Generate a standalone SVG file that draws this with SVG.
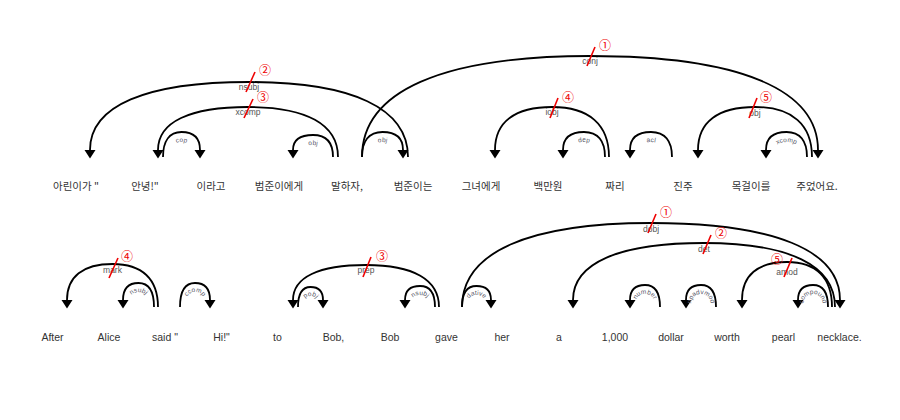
<svg xmlns="http://www.w3.org/2000/svg" width="900" height="420" viewBox="0 0 900 420">
<style>
.bg{fill:#fff}
.arc{fill:none;stroke:#000;stroke-width:1.8}
.ko{font-family:"Noto Sans CJK KR","Noto Sans CJK SC",sans-serif;font-size:10.5px;fill:#333;text-anchor:middle}
.en{font-family:"Liberation Sans",Arial,sans-serif;font-size:10.5px;fill:#333;text-anchor:middle}
.lbl{font-family:"Liberation Sans",Arial,sans-serif;font-size:8.5px;fill:#555;text-anchor:middle}
.slbl{font-family:"Liberation Sans",Arial,sans-serif;font-size:6.5px;fill:#556;text-anchor:middle}
.red{stroke:#e00;stroke-width:1.6;fill:none}
.num{font-family:"Noto Sans CJK KR","DejaVu Sans",sans-serif;font-size:12px;fill:#e00;text-anchor:middle}
</style>
<defs>
<marker id="arr" markerUnits="userSpaceOnUse" markerWidth="9" markerHeight="12" viewBox="0 -6 9 12" refX="0" refY="0" orient="auto">
<path d="M0,-5.5 L8.5,0 L0,5.5 z" fill="#000"/>
</marker>
<path id="t1" d="M169,157 C169,147.3 173.4,142 181.5,142 C189.6,142 194,147.3 194,157"/>
<path id="t2" d="M299,157 C299,149.2 303.9,145 313,145 C322.1,145 327,149.2 327,157"/>
<path id="t3" d="M368,157 C368,147.3 373.1,142 382.5,142 C391.9,142 397,147.3 397,157"/>
<path id="t4" d="M569,157 C569,147.3 574.25,142 584,142 C593.75,142 599,147.3 599,157"/>
<path id="t5" d="M636,157 C636,147.3 641.25,142 651,142 C660.75,142 666,147.3 666,157"/>
<path id="t6" d="M772,157 C772,147.3 777.1,142 786.5,142 C795.9,142 801,147.3 801,157"/>
<path id="b1" d="M128,307 C128,297.3 131.7,292 138.5,292 C145.3,292 149,297.3 149,307"/>
<path id="b2" d="M185,307 C185,297.3 188.5,292 195,292 C201.5,292 205,297.3 205,307"/>
<path id="b3" d="M303,307 C303,299.9 305.6,296 310.5,296 C315.4,296 318,299.9 318,307"/>
<path id="b4" d="M410,307 C410,299.2 413.5,295 420,295 C426.5,295 430,299.2 430,307"/>
<path id="b5" d="M467,307 C467,299.2 470.3,295 476.5,295 C482.7,295 486,299.2 486,307"/>
<path id="b6" d="M635,307 C635,298.6 638.5,294 645,294 C651.5,294 655,298.6 655,307"/>
<path id="b7" d="M691,307 C691,298.6 694.5,294 701,294 C707.5,294 711,298.6 711,307"/>
<path id="b8" d="M803,307 C803,298.6 806.5,294 813,294 C819.5,294 823,298.6 823,307"/>
</defs>
<rect class="bg" x="0" y="0" width="900" height="420"/>

<g id="connectors">
<path class="arc" marker-end="url(#arr)" d="M408,157 C408,108.3 352.4,82 249,82 C145.6,82 90,105.8 90,150"/>
<path class="arc" marker-end="url(#arr)" d="M338,157 C338,124.5 306.5,107 248,107 C189.5,107 158,122 158,150"/>
<path class="arc" marker-end="url(#arr)" d="M163,157 C163,140.8 169.5,132 181.5,132 C193.5,132 200,138.3 200,150"/>
<path class="arc" marker-end="url(#arr)" d="M333,157 C333,142.7 326,135 313,135 C300,135 293,140.3 293,150"/>
<path class="arc" marker-end="url(#arr)" d="M362,157 C362,91.4 441.8,56 590,56 C738.2,56 818,88.9 818,150"/>
<path class="arc" marker-end="url(#arr)" d="M362,157 C362,140.8 369.2,132 382.5,132 C395.8,132 403,138.3 403,150"/>
<path class="arc" marker-end="url(#arr)" d="M609,157 C609,124.5 589,107 552,107 C515,107 495,122 495,150"/>
<path class="arc" marker-end="url(#arr)" d="M605,157 C605,140.8 597.7,132 584,132 C570.3,132 563,138.3 563,150"/>
<path class="arc" marker-end="url(#arr)" d="M672,157 C672,140.8 664.7,132 651,132 C637.3,132 630,138.3 630,150"/>
<path class="arc" marker-end="url(#arr)" d="M812,157 C812,124.5 792,107 755,107 C718,107 698,122 698,150"/>
<path class="arc" marker-end="url(#arr)" d="M807,157 C807,140.8 799.8,132 786.5,132 C773.2,132 766,138.3 766,150"/>

<path class="arc" marker-end="url(#arr)" d="M158,307 C158,279 142.1,264 112.5,264 C82.9,264 67,276.6 67,300"/>
<path class="arc" marker-end="url(#arr)" d="M154,307 C154,291.4 148.6,283 138.5,283 C128.4,283 123,289 123,300"/>
<path class="arc" marker-end="url(#arr)" d="M180,307 C180,291.4 185.25,283 195,283 C204.75,283 210,289 210,300"/>
<path class="arc" marker-end="url(#arr)" d="M439,307 C439,279.7 413.45,265 366,265 C318.55,265 293,277.25 293,300"/>
<path class="arc" marker-end="url(#arr)" d="M298,307 C298,294 302.4,287 310.5,287 C318.6,287 323,291.6 323,300"/>
<path class="arc" marker-end="url(#arr)" d="M435,307 C435,293.4 429.75,286 420,286 C410.25,286 405,290.9 405,300"/>
<path class="arc" marker-end="url(#arr)" d="M462,307 C462,293.4 467.1,286 476.5,286 C485.9,286 491,290.9 491,300"/>
<path class="arc" marker-end="url(#arr)" d="M462,307 C462,252.4 528.15,223 651,223 C773.85,223 840,250 840,300"/>
<path class="arc" marker-end="url(#arr)" d="M835,307 C835,265.4 789.15,243 704,243 C618.85,243 573,263 573,300"/>
<path class="arc" marker-end="url(#arr)" d="M832,307 C832,277.75 816.25,262 787,262 C757.75,262 742,275.3 742,300"/>
<path class="arc" marker-end="url(#arr)" d="M660,307 C660,292.7 654.75,285 645,285 C635.25,285 630,290.25 630,300"/>
<path class="arc" marker-end="url(#arr)" d="M716,307 C716,292.7 710.75,285 701,285 C691.25,285 686,290.25 686,300"/>
<path class="arc" marker-end="url(#arr)" d="M828,307 C828,292.7 822.75,285 813,285 C803.25,285 798,290.25 798,300"/>

<text class="lbl" x="249" y="90">nsubj</text>
<text class="lbl" x="248" y="115">xcomp</text>
<text class="lbl" x="590" y="64">conj</text>
<text class="lbl" x="552" y="115">iobj</text>
<text class="lbl" x="755" y="116">obj</text>
<text class="lbl" x="112.5" y="272.5">mark</text>
<text class="lbl" x="366" y="273">prep</text>
<text class="lbl" x="651" y="231.5">dobj</text>
<text class="lbl" x="704" y="251.5">det</text>
<text class="lbl" x="787" y="275">amod</text>

<text class="slbl"><textPath href="#t1" startOffset="50%">cop</textPath></text>
<text class="slbl"><textPath href="#t2" startOffset="50%">obj</textPath></text>
<text class="slbl"><textPath href="#t3" startOffset="50%">obj</textPath></text>
<text class="slbl"><textPath href="#t4" startOffset="50%">dep</textPath></text>
<text class="slbl"><textPath href="#t5" startOffset="50%">acl</textPath></text>
<text class="slbl"><textPath href="#t6" startOffset="50%">xcomp</textPath></text>
<text class="slbl"><textPath href="#b1" startOffset="50%">nsubj</textPath></text>
<text class="slbl"><textPath href="#b2" startOffset="50%">ccomp</textPath></text>
<text class="slbl"><textPath href="#b3" startOffset="50%">pobj</textPath></text>
<text class="slbl"><textPath href="#b4" startOffset="50%">nsubj</textPath></text>
<text class="slbl"><textPath href="#b5" startOffset="50%">dative</textPath></text>
<text class="slbl"><textPath href="#b6" startOffset="50%">number</textPath></text>
<text class="slbl"><textPath href="#b7" startOffset="50%">npadvmod</textPath></text>
<text class="slbl"><textPath href="#b8" startOffset="50%">compound</textPath></text>
</g>

<g id="annotations">
<line class="red" x1="255" y1="72" x2="246" y2="92"/><text class="num" x="265" y="74.5">②</text>
<line class="red" x1="253" y1="99" x2="244" y2="118"/><text class="num" x="263" y="101.5">③</text>
<line class="red" x1="595" y1="47" x2="587" y2="66"/><text class="num" x="605" y="49.5">①</text>
<line class="red" x1="558" y1="98" x2="550" y2="118"/><text class="num" x="568" y="101.5">④</text>
<line class="red" x1="757" y1="98" x2="749" y2="118"/><text class="num" x="766" y="101.5">⑤</text>
<line class="red" x1="118" y1="258" x2="109" y2="278"/><text class="num" x="127" y="260.5">④</text>
<line class="red" x1="371" y1="257" x2="363" y2="277"/><text class="num" x="382" y="260.5">③</text>
<line class="red" x1="656" y1="214" x2="648" y2="233"/><text class="num" x="666" y="216.5">①</text>
<line class="red" x1="711" y1="235" x2="703" y2="254"/><text class="num" x="721" y="237.5">②</text>
<line class="red" x1="792" y1="258" x2="784" y2="277"/><text class="num" x="777" y="263.5">⑤</text>
</g>

<g id="w-k0"><text class="ko" x="76" y="190">아린이가 "</text></g>
<g id="w-k1"><text class="ko" x="145" y="190">안녕!"</text></g>
<g id="w-k2"><text class="ko" x="211" y="190">이라고</text></g>
<g id="w-k3"><text class="ko" x="279" y="190">범준이에게</text></g>
<g id="w-k4"><text class="ko" x="347" y="190">말하자,</text></g>
<g id="w-k5"><text class="ko" x="413" y="190">범준이는</text></g>
<g id="w-k6"><text class="ko" x="481" y="190">그녀에게</text></g>
<g id="w-k7"><text class="ko" x="548" y="190">백만원</text></g>
<g id="w-k8"><text class="ko" x="615" y="190">짜리</text></g>
<g id="w-k9"><text class="ko" x="683" y="190">진주</text></g>
<g id="w-k10"><text class="ko" x="751" y="190">목걸이를</text></g>
<g id="w-k11"><text class="ko" x="817" y="190">주었어요.</text></g>

<g id="w-e0"><text class="en" x="52.5" y="341">After</text></g>
<g id="w-e1"><text class="en" x="109" y="341">Alice</text></g>
<g id="w-e2"><text class="en" x="165" y="341">said "</text></g>
<g id="w-e3"><text class="en" x="221.5" y="341">Hi!"</text></g>
<g id="w-e4"><text class="en" x="277.5" y="341">to</text></g>
<g id="w-e5"><text class="en" x="333.5" y="341">Bob,</text></g>
<g id="w-e6"><text class="en" x="390" y="341">Bob</text></g>
<g id="w-e7"><text class="en" x="446.5" y="341">gave</text></g>
<g id="w-e8"><text class="en" x="502" y="341">her</text></g>
<g id="w-e9"><text class="en" x="559" y="341">a</text></g>
<g id="w-e10"><text class="en" x="615" y="341">1,000</text></g>
<g id="w-e11"><text class="en" x="671" y="341">dollar</text></g>
<g id="w-e12"><text class="en" x="727" y="341">worth</text></g>
<g id="w-e13"><text class="en" x="783.5" y="341">pearl</text></g>
<g id="w-e14"><text class="en" x="839.5" y="341">necklace.</text></g>
</svg>
